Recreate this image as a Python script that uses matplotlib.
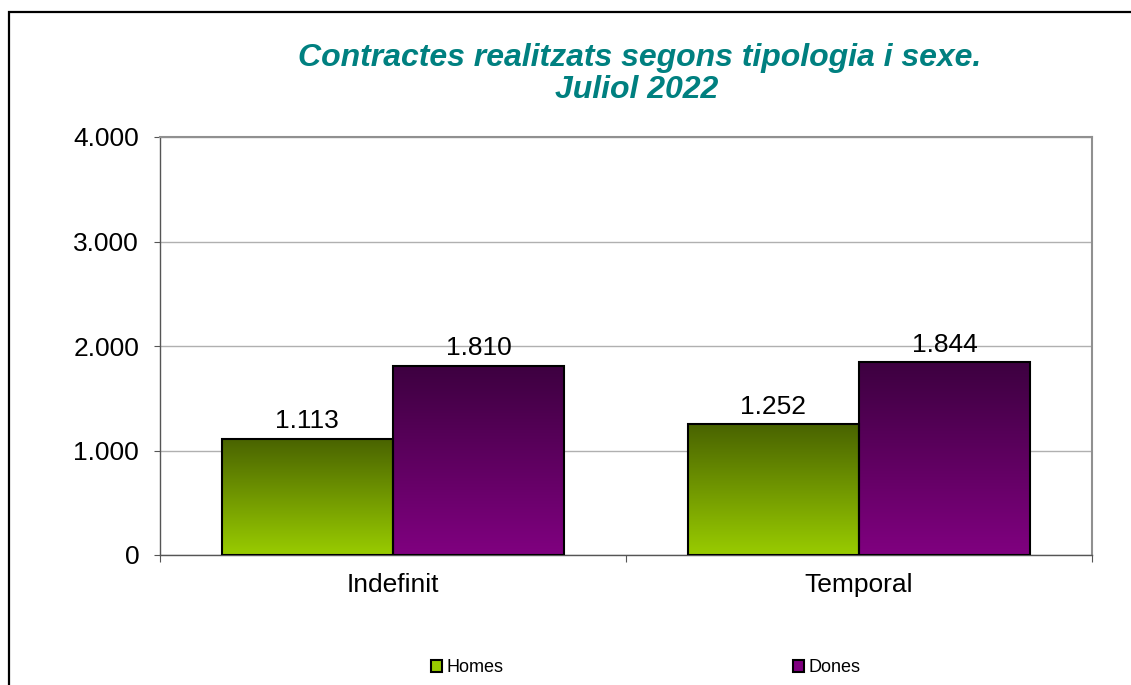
import numpy as np
import matplotlib
matplotlib.use("Agg")
import matplotlib.pyplot as plt
from matplotlib.colors import LinearSegmentedColormap
from matplotlib.patches import Rectangle, Patch

plt.rcParams["font.family"] = ["Liberation Sans", "DejaVu Sans"]

categories = ["Indefinit", "Temporal"]
series_names = ["Homes", "Dones"]
homes = [1113, 1252]
dones = [1810, 1844]
y_ticks = [0, 1000, 2000, 3000, 4000]
y_tick_labels = ["0", "1.000", "2.000", "3.000", "4.000"]

# gradient colours: (top, bottom)
GREEN = ("#496300", "#99cc00")
PURPLE = ("#3d0040", "#800080")
TEAL = "#008080"
FS = 19


def fmt(v):
    return f"{v:,}".replace(",", ".")


fig = plt.figure(figsize=(11.31, 6.85), dpi=100)
ax = fig.add_axes([160 / 1131, 130 / 685, 932 / 1131, 418 / 685])

# outer chart frame
fig.patches.append(
    Rectangle((9 / 1131, -0.05), 1.2, (685 - 12) / 685 + 0.05,
              transform=fig.transFigure, fill=False, edgecolor="black",
              linewidth=1.6, zorder=0)
)

x = np.arange(len(categories))
width = 0.368


def gradient_bar(xc, h, colors, label):
    cmap = LinearSegmentedColormap.from_list("g", [colors[1], colors[0]])
    bar = ax.bar(xc, h, width, color="none", edgecolor="black",
                 linewidth=1.5, zorder=3, label=label)[0]
    grad = np.linspace(0, 1, 256).reshape(-1, 1)
    im = ax.imshow(grad, cmap=cmap, origin="lower", aspect="auto",
                   extent=[xc - width / 2, xc + width / 2, 0, h], zorder=2)
    im.set_clip_path(bar)
    ax.annotate(fmt(h), (xc, h), xytext=(0, 4), textcoords="offset points",
                ha="center", va="bottom", fontsize=FS, zorder=4)


for i in range(len(categories)):
    gradient_bar(x[i] - width / 2, homes[i], GREEN, series_names[0])
    gradient_bar(x[i] + width / 2, dones[i], PURPLE, series_names[1])

ax.set_xlim(-0.5, len(categories) - 0.5)
ax.set_ylim(0, 4000)
ax.set_yticks(y_ticks)
ax.set_yticklabels(y_tick_labels, fontsize=FS)
ax.set_xticks([-0.5, 0.5, 1.5], minor=False)
ax.set_xticklabels([])
ax.set_xticks(x, minor=True)
ax.set_xticklabels(categories, minor=True, fontsize=FS)
ax.tick_params(axis="x", which="minor", length=0, pad=13)
ax.tick_params(axis="x", which="major", length=5, color="#555555")
ax.tick_params(axis="y", length=4, color="#555555", pad=11)
ax.grid(axis="y", color="#b0b0b0", linewidth=1, zorder=1)
ax.set_axisbelow(True)

for s in ["top", "right"]:
    ax.spines[s].set_color("#909090")
    ax.spines[s].set_linewidth(1.5)
for s in ["left", "bottom"]:
    ax.spines[s].set_color("#555555")
    ax.spines[s].set_linewidth(1)

fig.text(640 / 1131, 1 - 66 / 685, "Contractes realitzats segons tipologia i sexe.",
         ha="center", va="baseline", fontsize=23, fontweight="bold",
         fontstyle="italic", color=TEAL)
fig.text(637 / 1131, 1 - 98 / 685, "Juliol 2022",
         ha="center", va="baseline", fontsize=23, fontweight="bold",
         fontstyle="italic", color=TEAL)

handles = [Patch(facecolor=GREEN[1], edgecolor="black", linewidth=1.5),
           Patch(facecolor=PURPLE[1], edgecolor="black", linewidth=1.5)]
fig.legend(handles, series_names, loc="center left",
           bbox_to_anchor=(431 / 1131, 1 - 668 / 685), ncol=2, frameon=False,
           fontsize=13, handlelength=0.6, handleheight=0.6,
           handletextpad=0.28, columnspacing=16, borderpad=0,
           borderaxespad=0)

fig.savefig("out.png", dpi=100)
